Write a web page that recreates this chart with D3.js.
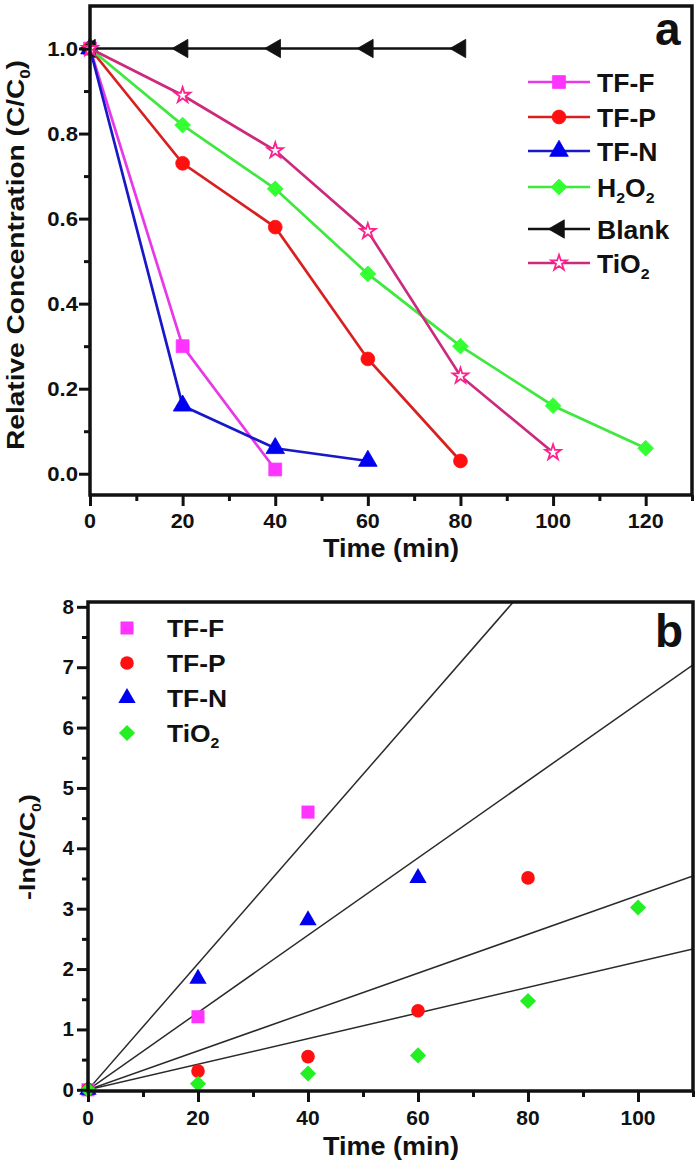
<!DOCTYPE html>
<html><head><meta charset="utf-8">
<script src="https://cdn.jsdelivr.net/npm/d3@7"></script>
<style>
body{margin:0;background:#fff}
text{font-family:"Liberation Sans",Arial,Helvetica,sans-serif;font-weight:bold;fill:#111}
</style>
</head><body>
<svg id="c" width="700" height="1166"></svg>
<script>
// ---------- Data: panel a ----------
const timeA = [0, 20, 40, 60, 80, 100, 120];
const tfF_A = [1.0, 0.30, 0.01];
const tfP_A = [1.0, 0.73, 0.58, 0.27, 0.03];
const tfN_A = [1.0, 0.16, 0.06, 0.03];
const h2o2_A = [1.0, 0.82, 0.67, 0.47, 0.30, 0.16, 0.06];
const blank_A = [1.0, 1.0, 1.0, 1.0, 1.0];
const tio2_A = [1.0, 0.89, 0.76, 0.57, 0.23, 0.05];
const xTicksA = [0, 20, 40, 60, 80, 100, 120];
const xMinorA = [10, 30, 50, 70, 90, 110, 130];
const yTicksA = [0.0, 0.2, 0.4, 0.6, 0.8, 1.0];
const yMinorA = [0.1, 0.3, 0.5, 0.7, 0.9];
const yTickLabelsA = ["0.0", "0.2", "0.4", "0.6", "0.8", "1.0"];

// ---------- Data: panel b ----------
const timeB = [0, 20, 40, 60, 80, 100];
const tfF_B = [0, 1.21, 4.6];
const tfP_B = [0, 0.31, 0.55, 1.31, 3.51];
const tfN_B = [0, 1.84, 2.81, 3.51];
const tio2_B = [0, 0.10, 0.27, 0.57, 1.47, 3.02];
const fitSlopesB = [0.1045, 0.0640, 0.0322, 0.0212];
const xTicksB = [0, 20, 40, 60, 80, 100];
const xMinorB = [10, 30, 50, 70, 90, 110];
const yTicksB = [0, 1, 2, 3, 4, 5, 6, 7, 8];
const yMinorB = [0.5, 1.5, 2.5, 3.5, 4.5, 5.5, 6.5, 7.5];

const svg = d3.select("#c");

// text helper with subscripts and horizontal stretch
function addText(g, x, y, parts, size, sx, anchor, rotate) {
  const t = g.append("text")
    .attr("transform", `translate(${x},${y})${rotate ? " rotate(-90)" : ""} scale(${sx},1)`)
    .attr("font-size", size).attr("text-anchor", anchor || "start");
  let shift = 0;
  parts.forEach(p => {
    const s = typeof p === "string" ? p : p[0];
    const sub = typeof p !== "string";
    const target = sub ? size * 0.25 : 0;
    const ts = t.append("tspan").text(s).attr("dy", target - shift);
    if (sub) ts.attr("font-size", size * 0.6);
    shift = target;
  });
  return t;
}

function sym(type, size, rot) {
  return { path: d3.symbol().type(type).size(size)(), rot: rot || 0 };
}

// ================= Panel a =================
const A = { l: 90, r: 692, t: 6, b: 495 };
const xA = d3.scaleLinear().domain([0, 130]).range([A.l, A.r]);
const yA = d3.scaleLinear().domain([-0.05, 1.1]).range([A.b, A.t]);
const gA = svg.append("g");

const seriesA = [
  { name: ["TF-F"], vals: tfF_A, line: "#e838e8", fill: "#ff33ff", stroke: "#ff33ff", s: sym(d3.symbolSquare, 165) },
  { name: ["TF-P"], vals: tfP_A, line: "#d92020", fill: "#ff1010", stroke: "#ff1010", s: sym(d3.symbolCircle, 150) },
  { name: ["TF-N"], vals: tfN_A, line: "#1818c8", fill: "#0000f0", stroke: "#0000f0", s: sym(d3.symbolTriangle, 150) },
  { name: ["H", ["2"], "O", ["2"]], vals: h2o2_A, line: "#3ee83e", fill: "#33ff33", stroke: "#33ff33", s: { path: d3.symbol().type(d3.symbolSquare).size(125)(), rot: 45 } },
  { name: ["Blank"], vals: blank_A, line: "#111", fill: "#111", stroke: "#111", s: sym(d3.symbolTriangle, 145, -90) },
  { name: ["TiO", ["2"]], vals: tio2_A, line: "#cc2a7c", fill: "#fff", stroke: "#ff2090", s: sym(d3.symbolStar, 75), sw: 1.8 }
];

const lineA = d3.line().x(d => xA(d[0])).y(d => yA(d[1]));
seriesA.forEach(s => {
  const pts = s.vals.map((v, i) => [timeA[i], v]);
  gA.append("path").attr("d", lineA(pts)).attr("fill", "none")
    .attr("stroke", s.line).attr("stroke-width", 2.7);
  gA.selectAll(null).data(pts).enter().append("path")
    .attr("d", s.s.path)
    .attr("transform", d => `translate(${xA(d[0])},${yA(d[1])}) rotate(${s.s.rot})`)
    .attr("fill", s.fill).attr("stroke", s.stroke).attr("stroke-width", s.sw || 0.8);
});

// axes a
function styleAxis(g) {
  g.select(".domain").remove();
  g.selectAll(".tick line").attr("stroke", "#111").attr("stroke-width", 3);
  g.selectAll(".tick text").remove();
}
gA.append("g").attr("transform", `translate(0,${A.b})`)
  .call(d3.axisBottom(xA).tickValues(xTicksA).tickSize(11)).call(styleAxis);
gA.append("g").attr("transform", `translate(0,${A.b})`)
  .call(d3.axisBottom(xA).tickValues(xMinorA).tickSize(6)).call(styleAxis);
gA.append("g").attr("transform", `translate(${A.l},0)`)
  .call(d3.axisLeft(yA).tickValues(yTicksA).tickSize(11)).call(styleAxis);
gA.append("g").attr("transform", `translate(${A.l},0)`)
  .call(d3.axisLeft(yA).tickValues(yMinorA).tickSize(6)).call(styleAxis);

gA.append("rect").attr("x", A.l).attr("y", A.t).attr("width", A.r - A.l).attr("height", A.b - A.t)
  .attr("fill", "none").attr("stroke", "#111").attr("stroke-width", 3.5);

xTicksA.forEach(v => addText(gA, xA(v), 528, [String(v)], 20.5, 1.05, "middle"));
yTicksA.forEach((v, i) => addText(gA, 78, yA(v) + 7.5, [yTickLabelsA[i]], 20.5, 1.08, "end"));
addText(gA, 391, 557, ["Time (min)"], 25.5, 1.06, "middle");
addText(gA, 24, 255, ["Relative Concentration (C/C", ["0"], ")"], 24, 1.17, "middle", true);
addText(gA, 655, 45, ["a"], 46, 1.0, "start");

// legend a
const legRowsA = [82, 117, 151, 187, 229, 263];
seriesA.forEach((s, i) => {
  const y = legRowsA[i];
  gA.append("line").attr("x1", 528).attr("x2", 590).attr("y1", y).attr("y2", y)
    .attr("stroke", s.line).attr("stroke-width", 2.7);
  gA.append("path").attr("d", s.s.path)
    .attr("transform", `translate(559,${y}) rotate(${s.s.rot})`)
    .attr("fill", s.fill).attr("stroke", s.stroke).attr("stroke-width", s.sw || 0.8);
  addText(gA, 597, y + 9.5, s.name, 25.5, 1.04, "start");
});

// ================= Panel b =================
const B = { l: 88, r: 693, t: 602, b: 1091 };
const xB = d3.scaleLinear().domain([0, 110]).range([B.l, B.r]);
const yB = d3.scaleLinear().domain([-0.02, 8.08]).range([B.b, B.t]);
const gB = svg.append("g");

svg.append("defs").append("clipPath").attr("id", "clipB")
  .append("rect").attr("x", B.l).attr("y", B.t).attr("width", B.r - B.l).attr("height", B.b - B.t);

const lineB = d3.line().x(d => xB(d[0])).y(d => yB(d[1]));
fitSlopesB.forEach(k => {
  gB.append("path").attr("clip-path", "url(#clipB)")
    .attr("d", lineB([[0, 0], [110, k * 110]]))
    .attr("fill", "none").attr("stroke", "#2a2a2a").attr("stroke-width", 1.5);
});

const seriesB = [
  { name: ["TF-F"], vals: tfF_B, fill: "#ff33ff", s: sym(d3.symbolSquare, 170) },
  { name: ["TF-P"], vals: tfP_B, fill: "#ff1010", s: sym(d3.symbolCircle, 145) },
  { name: ["TF-N"], vals: tfN_B, fill: "#0000f0", s: sym(d3.symbolTriangle, 130) },
  { name: ["TiO", ["2"]], vals: tio2_B, fill: "#22f022", s: { path: d3.symbol().type(d3.symbolSquare).size(130)(), rot: 45 } }
];
seriesB.forEach(s => {
  const pts = s.vals.map((v, i) => [timeB[i], v]);
  gB.selectAll(null).data(pts).enter().append("path")
    .attr("d", s.s.path)
    .attr("transform", d => `translate(${xB(d[0])},${yB(d[1])}) rotate(${s.s.rot})`)
    .attr("fill", s.fill);
});

gB.append("g").attr("transform", `translate(0,${B.b})`)
  .call(d3.axisBottom(xB).tickValues(xTicksB).tickSize(11)).call(styleAxis);
gB.append("g").attr("transform", `translate(0,${B.b})`)
  .call(d3.axisBottom(xB).tickValues(xMinorB).tickSize(6)).call(styleAxis);
gB.append("g").attr("transform", `translate(${B.l},0)`)
  .call(d3.axisLeft(yB).tickValues(yTicksB).tickSize(11)).call(styleAxis);
gB.append("g").attr("transform", `translate(${B.l},0)`)
  .call(d3.axisLeft(yB).tickValues(yMinorB).tickSize(6)).call(styleAxis);

gB.append("rect").attr("x", B.l).attr("y", B.t).attr("width", B.r - B.l).attr("height", B.b - B.t)
  .attr("fill", "none").attr("stroke", "#111").attr("stroke-width", 3.5);

xTicksB.forEach(v => addText(gB, xB(v), 1125, [String(v)], 21, 1.0, "middle"));
yTicksB.forEach(v => addText(gB, 74, yB(v) + 7, [String(v)], 19.5, 1.05, "end"));
addText(gB, 391, 1155, ["Time (min)"], 25.5, 1.06, "middle");
addText(gB, 35, 847, ["-ln(C/C", ["0"], ")"], 22, 1.22, "middle", true);
addText(gB, 655, 647, ["b"], 46, 1.0, "start");

const legRowsB = [628, 663, 698, 733];
seriesB.forEach((s, i) => {
  const y = legRowsB[i];
  gB.append("path").attr("d", s.s.path)
    .attr("transform", `translate(127,${y}) rotate(${s.s.rot})`)
    .attr("fill", s.fill);
  addText(gB, 167, y + 9, s.name, 24, 1.1, "start");
});
</script>
</body></html>
